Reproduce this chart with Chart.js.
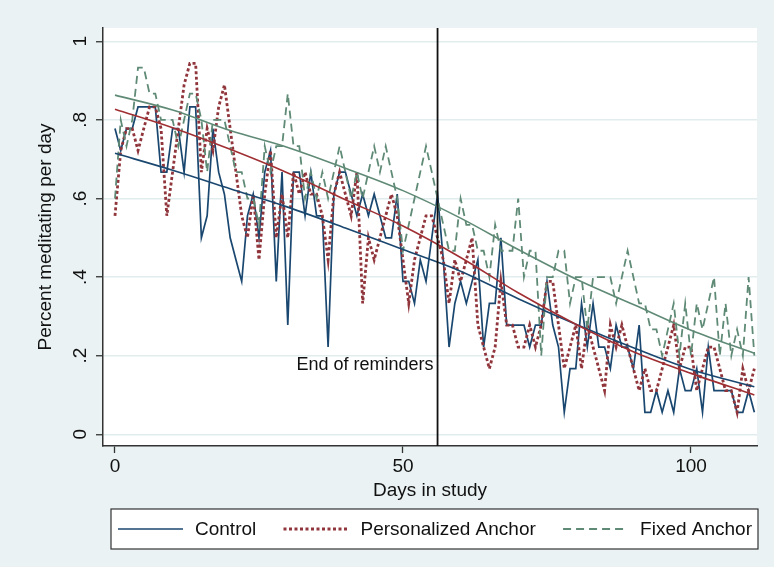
<!DOCTYPE html>
<html>
<head>
<meta charset="utf-8">
<script src="https://cdn.jsdelivr.net/npm/chart.js@4.4.0/dist/chart.umd.min.js"></script>
<style>
  html, body { margin: 0; padding: 0; background: #eaf2f3; }
  canvas { display: block; }
</style>
</head>
<body>
<canvas id="chart" width="774" height="567"></canvas>
<script>
// ── Data ───────────────────────────────────────────────────────
// daily share meditating, day 0 .. 111
const CONTROL = [
  .778, .722, .778, .778, .833, .833, .833, .833, .667, .667,
  .778, .778, .667, .833, .833, .5, .556, .778, .667, .611,
  .5, .444, .389, .556, .611, .5, .667, .722, .389, .667,
  .278, .667, .667, .556, .667, .556, .556, .222, .611, .667,
  .667, .611, .556, .611, .556, .611, .556, .5, .5, .611,
  .389, .389, .333, .444, .389, .5, .611, .444, .222, .333,
  .389, .333, .389, .444, .222, .333, .333, .5, .278, .278,
  .278, .278, .222, .278, .278, .389, .278, .222, .056, .167,
  .167, .333, .222, .333, .222, .222, .167, .278, .222, .222,
  .167, .278, .056, .056, .111, .056, .111, .056, .167, .111,
  .111, .167, .056, .222, .111, .111, .111, .111, .056, .056,
  .111, .056,
];
const PERSONALIZED = [
  .556, .722, .778, .778, .722, .778, .833, .833, .778, .556,
  .667, .778, .889, .944, .944, .667, .778, .722, .833, .889,
  .778, .667, .556, .5, .611, .444, .611, .722, .5, .611,
  .5, .667, .611, .667, .611, .611, .556, .444, .611, .667,
  .611, .556, .667, .333, .5, .444, .5, .556, .611, .556,
  .444, .333, .444, .5, .556, .556, .5, .444, .333, .444,
  .389, .444, .5, .278, .222, .167, .222, .389, .278, .278,
  .222, .222, .278, .222, .278, .389, .389, .278, .167, .222,
  .278, .167, .278, .222, .167, .111, .278, .222, .278, .222,
  .167, .111, .167, .111, .111, .167, .222, .278, .167, .222,
  .222, .111, .167, .222, .222, .167, .111, .111, .056, .167,
  .111, .167,
];
const FIXED = [
  .6, .8, .733, .8, .933, .933, .867, .867, .8, .8,
  .8, .733, .8, .867, .867, .8, .667, .8, .8, .8,
  .733, .667, .667, .6, .6, .533, .733, .667, .733, .733,
  .867, .733, .733, .6, .667, .6, .667, .6, .667, .733,
  .667, .6, .667, .6, .667, .733, .667, .733, .667, .6,
  .467, .533, .6, .667, .733, .667, .6, .533, .467, .467,
  .6, .533, .533, .467, .467, .4, .533, .467, .467, .467,
  .6, .4, .467, .467, .2, .4, .4, .467, .467, .333,
  .4, .4, .267, .4, .4, .4, .4, .333, .4, .467,
  .4, .333, .333, .267, .267, .2, .267, .333, .2, .333,
  .2, .333, .267, .333, .4, .2, .333, .2, .267, .2,
  .4, .2,
];

// fitted curves, read at a few days
const FIT_DAYS = [0, 10, 20, 30, 40, 50, 60, 70, 80, 90, 100, 111];
const FIT_CONTROL = [.715, .672, .625, .578, .525, .47, .415, .345, .28, .22, .165, .121];
const FIT_PERSONALIZED = [.827, .78, .725, .665, .597, .53, .45, .36, .28, .21, .155, .10];
const FIT_FIXED = [.863, .825, .773, .73, .677, .62, .55, .47, .395, .33, .265, .206];

const REMINDER_END_DAY = 56;
const X_TICKS = [0, 50, 100];
const Y_TICKS = [0, .2, .4, .6, .8, 1];
const Y_TICK_LABELS = ["0", ".2", ".4", ".6", ".8", "1"];

// ── Estilo ─────────────────────────────────────────────────────
const FONT = '"Liberation Sans", Arial, sans-serif';
const NAVY = "#1a476f";
const MAROON = "#90353b";
const MAROON_FIT = "#a02f33";
const GREEN = "#5f8a76";

function pts(arr) {
  return arr.map((v, i) => ({ x: i, y: v }));
}
function fitPts(arr) {
  return arr.map((v, i) => ({ x: FIT_DAYS[i], y: v }));
}

// ── Plugins ────────────────────────────────────────────────────
const background = {
  id: "background",
  beforeDraw(chart) {
    const { ctx, chartArea: a } = chart;
    ctx.save();
    ctx.fillStyle = "#eaf2f3";
    ctx.fillRect(0, 0, chart.width, chart.height);
    ctx.fillStyle = "#ffffff";
    ctx.fillRect(a.left, a.top, a.right - a.left, a.bottom - a.top);
    ctx.restore();
  },
};

const yLabels = {
  id: "yLabels",
  afterDraw(chart) {
    const { ctx } = chart;
    const y = chart.scales.y;
    ctx.save();
    ctx.font = `19px ${FONT}`;
    ctx.fillStyle = "#111";
    ctx.textAlign = "center";
    ctx.textBaseline = "middle";
    Y_TICKS.forEach((v, i) => {
      ctx.save();
      ctx.translate(81, y.getPixelForValue(v));
      ctx.rotate(-Math.PI / 2);
      ctx.fillText(Y_TICK_LABELS[i], 0, 0);
      ctx.restore();
    });
    ctx.restore();
  },
};

const reminderLine = {
  id: "reminderLine",
  afterDatasetsDraw(chart) {
    const { ctx, chartArea: a } = chart;
    const x = chart.scales.x.getPixelForValue(REMINDER_END_DAY);
    ctx.save();
    ctx.strokeStyle = "#111";
    ctx.lineWidth = 1.8;
    ctx.beginPath();
    ctx.moveTo(x, a.top);
    ctx.lineTo(x, a.bottom);
    ctx.stroke();
    ctx.font = `18px ${FONT}`;
    ctx.fillStyle = "#111";
    ctx.textAlign = "right";
    ctx.textBaseline = "middle";
    ctx.fillText("End of reminders", x - 4, chart.scales.y.getPixelForValue(0.175));
    ctx.restore();
  },
};

const legendBox = {
  id: "legendBox",
  afterDraw(chart) {
    const { ctx } = chart;
    const box = { left: 111, right: 758, top: 509, bottom: 549 };
    const cy = (box.top + box.bottom) / 2;
    const sample = 65, gapText = 12;
    const items = chart.data.datasets.slice(0, 3);
    ctx.save();
    ctx.fillStyle = "#fff";
    ctx.fillRect(box.left, box.top, box.right - box.left, box.bottom - box.top);
    ctx.strokeStyle = "#333";
    ctx.lineWidth = 1.2;
    ctx.strokeRect(box.left, box.top, box.right - box.left, box.bottom - box.top);
    ctx.font = `19px ${FONT}`;
    ctx.textBaseline = "middle";
    ctx.textAlign = "left";
    const widths = items.map((d) => ctx.measureText(d.label).width);
    const used = items.length * (sample + gapText) + widths.reduce((s, w) => s + w, 0);
    const gap = (box.right - box.left - 13 - used) / (items.length - 1);
    let x = box.left + 7;
    items.forEach((d, i) => {
      ctx.strokeStyle = d.borderColor;
      ctx.lineWidth = d.borderWidth;
      ctx.setLineDash(d.borderDash || []);
      ctx.beginPath();
      ctx.moveTo(x, cy);
      ctx.lineTo(x + sample, cy);
      ctx.stroke();
      ctx.setLineDash([]);
      ctx.fillStyle = "#111";
      ctx.fillText(d.label, x + sample + gapText, cy + 1);
      x += sample + gapText + widths[i] + gap;
    });
    ctx.restore();
  },
};

// ── Gráfico ────────────────────────────────────────────────────
new Chart(document.getElementById("chart"), {
  type: "line",
  data: {
    datasets: [
      { label: "Control", data: pts(CONTROL), borderColor: NAVY, borderWidth: 1.7, order: 6 },
      { label: "Personalized Anchor", data: pts(PERSONALIZED), borderColor: MAROON, borderWidth: 2.8, borderDash: [3, 2.5], order: 5 },
      { label: "Fixed Anchor", data: pts(FIXED), borderColor: GREEN, borderWidth: 1.8, borderDash: [8, 5], order: 4 },
      { label: "Control fit", data: fitPts(FIT_CONTROL), borderColor: NAVY, borderWidth: 1.6, cubicInterpolationMode: "monotone", order: 3 },
      { label: "Personalized fit", data: fitPts(FIT_PERSONALIZED), borderColor: MAROON_FIT, borderWidth: 1.6, cubicInterpolationMode: "monotone", order: 2 },
      { label: "Fixed fit", data: fitPts(FIT_FIXED), borderColor: GREEN, borderWidth: 1.6, cubicInterpolationMode: "monotone", order: 1 },
    ],
  },
  options: {
    responsive: false,
    animation: false,
    devicePixelRatio: 1,
    layout: { padding: { left: 0, top: 28, right: 17, bottom: 61 } },
    elements: { point: { radius: 0 }, line: { tension: 0, fill: false } },
    plugins: { legend: { display: false }, tooltip: { enabled: false } },
    scales: {
      x: {
        type: "linear",
        min: -2.08,
        max: 111.46,
        afterBuildTicks: (s) => { s.ticks = X_TICKS.map((v) => ({ value: v })); },
        afterFit: (s) => { s.height = 60; },
        grid: { drawOnChartArea: false, tickLength: 7, tickColor: "#333", tickWidth: 1.3 },
        border: { color: "#333", width: 1.5 },
        ticks: { color: "#111", font: { family: FONT, size: 19 }, padding: 2, maxRotation: 0 },
        title: { display: true, text: "Days in study", color: "#111", font: { family: FONT, size: 19 }, padding: { top: 0, bottom: 4 } },
      },
      y: {
        type: "linear",
        min: -0.0298,
        max: 1.0338,
        afterBuildTicks: (s) => { s.ticks = Y_TICKS.map((v) => ({ value: v })); },
        afterFit: (s) => { s.width = 103; },
        grid: { color: "#e1ecee", lineWidth: 1.5, tickLength: 7, tickColor: "#333", tickWidth: 1.3 },
        border: { color: "#333", width: 1.5 },
        ticks: { display: false },
        title: { display: true, text: "Percent meditating per day", color: "#111", font: { family: FONT, size: 19 }, padding: { top: 34, bottom: 0 } },
      },
    },
  },
  plugins: [background, yLabels, reminderLine, legendBox],
});
</script>
</body>
</html>
